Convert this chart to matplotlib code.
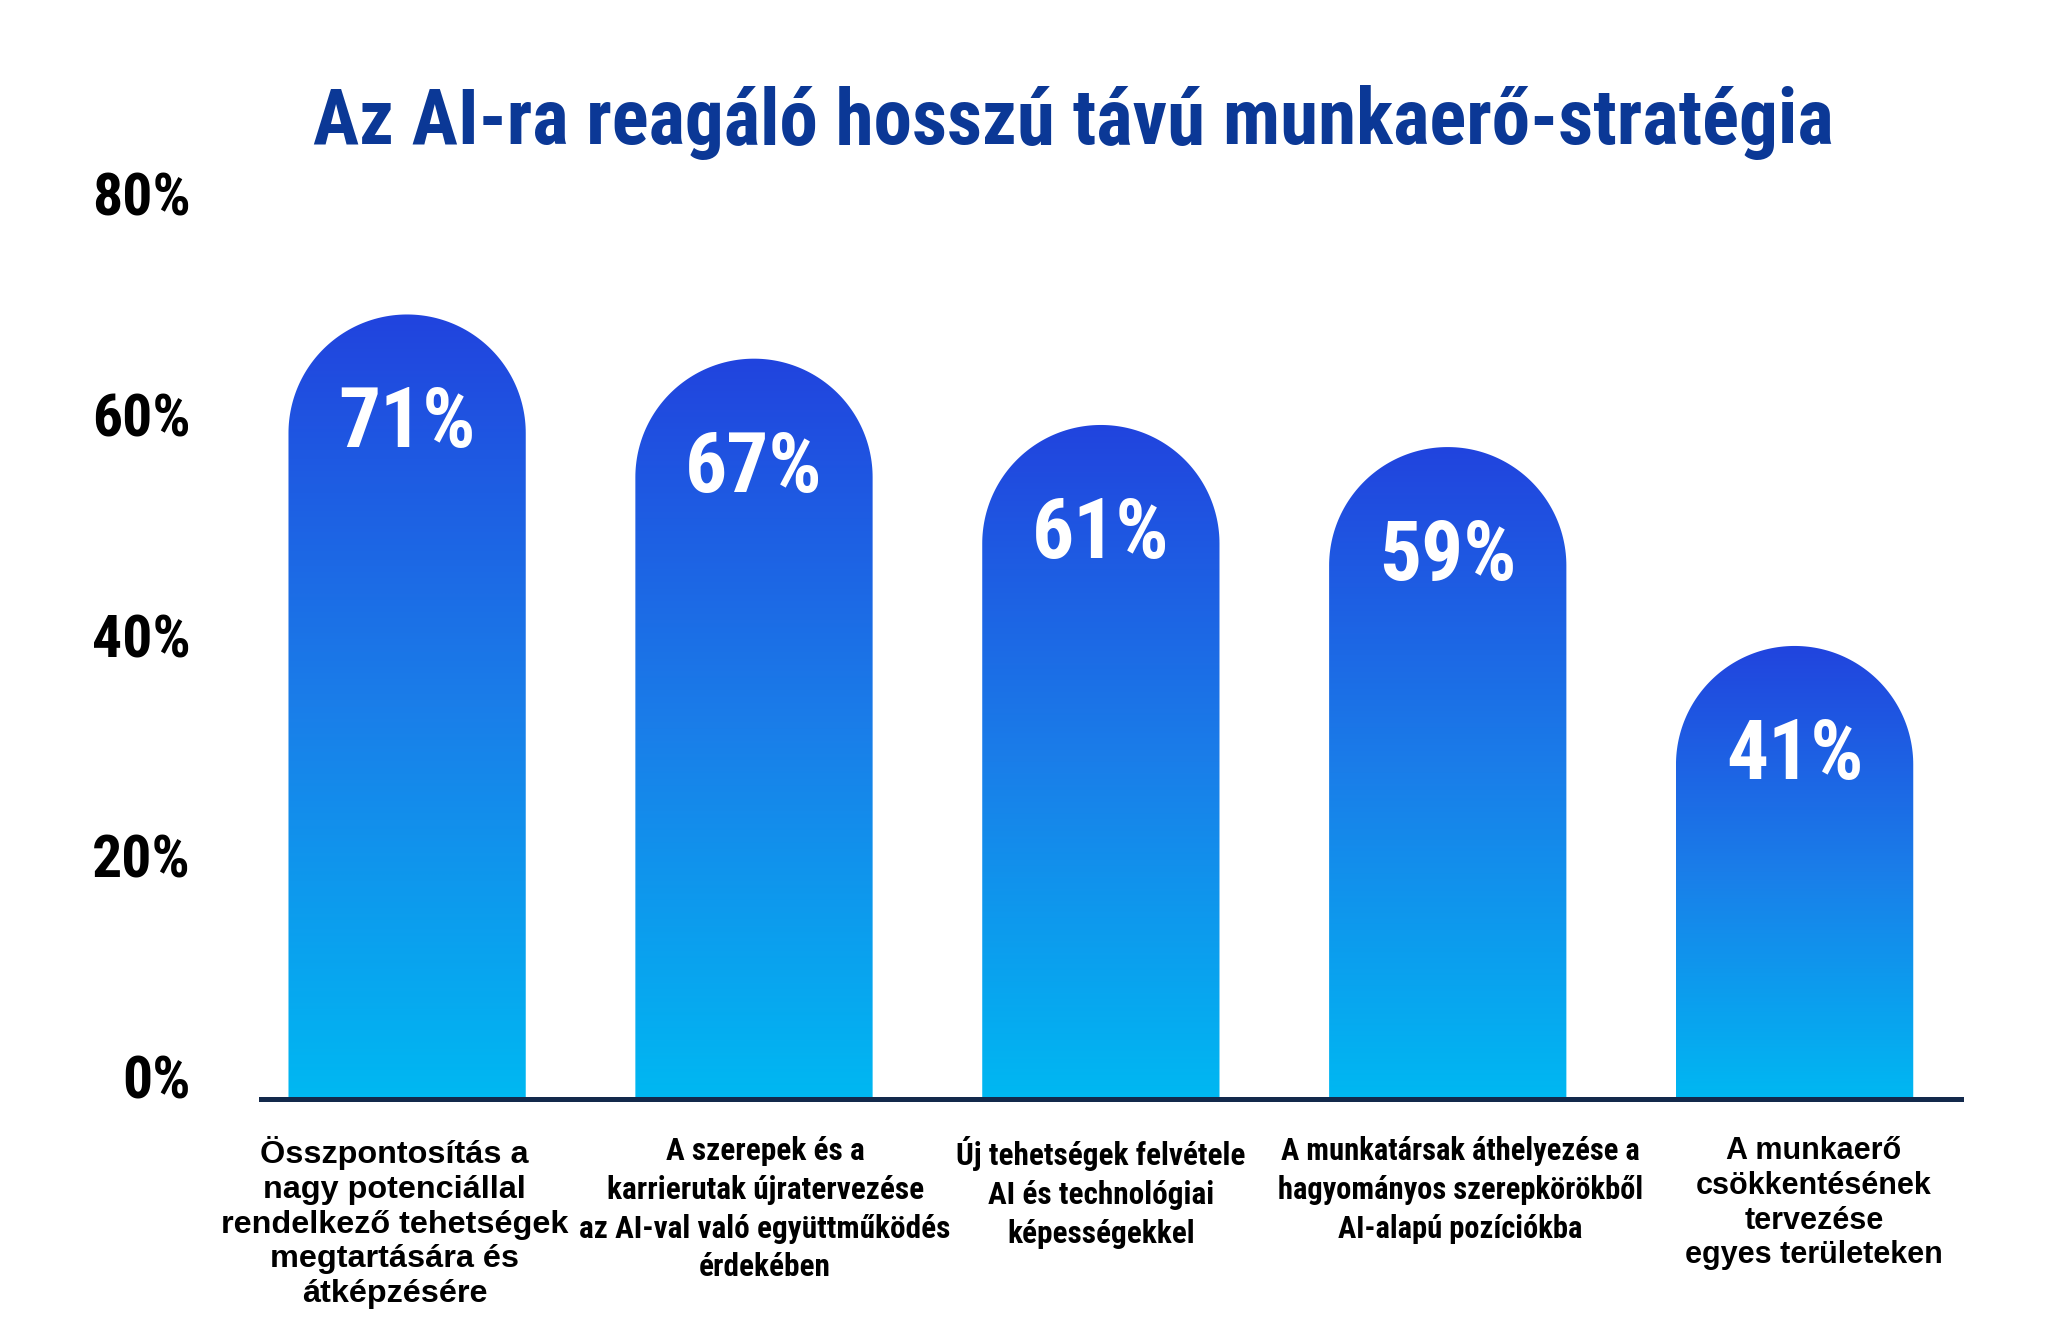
import matplotlib

matplotlib.use("Agg")
import matplotlib.pyplot as plt
import numpy as np
from matplotlib import font_manager
from matplotlib.colors import LinearSegmentedColormap
from matplotlib.patches import PathPatch
from matplotlib.path import Path

TITLE = "Az AI-ra reagáló hosszú távú munkaerő-stratégia"
CATEGORIES = [
    "Összpontosítás a\nnagy potenciállal\nrendelkező tehetségek\nmegtartására és\nátképzésére",
    "A szerepek és a\nkarrierutak újratervezése\naz AI-val való együttműködés\nérdekében",
    "Új tehetségek felvétele\nAI és technológiai\nképességekkel",
    "A munkatársak áthelyezése a\nhagyományos szerepkörökből\nAI-alapú pozíciókba",
    "A munkaerő\ncsökkentésének\ntervezése\negyes területeken",
]
VALUES = [71, 67, 61, 59, 41]
Y_TICKS = [0, 20, 40, 60, 80]
Y_TICK_LABELS = ["0%", "20%", "40%", "60%", "80%"]

_names = {f.name for f in font_manager.fontManager.ttflist}
NARROW = next((n for n in ["Roboto Condensed", "Liberation Sans Narrow", "DejaVu Sans Condensed"] if n in _names),
              "Liberation Sans")
WIDE = "Liberation Sans" if "Liberation Sans" in _names else "DejaVu Sans"

TITLE_COLOR = "#0b3896"
AXIS_COLOR = "#13294b"
bar_cmap = LinearSegmentedColormap.from_list("bar", ["#00b8f2", "#1a7ee9", "#2144de"])

W, H = 2048, 1330
fig = plt.figure(figsize=(W / 100, H / 100), dpi=100)
# axes placed so that 0% sits on y=1099px and bars centre on 407px + 347px steps
ax = fig.add_axes([0.1141, 0.1737, 0.8638, 0.7477])
ax.set_xlim(-0.5, 4.6)
ax.set_ylim(0, 90)

fig.canvas.draw()
px_x = ax.transData.transform((1, 0))[0] - ax.transData.transform((0, 0))[0]
px_y = ax.transData.transform((0, 1))[1] - ax.transData.transform((0, 0))[1]

bar_w = 0.684
grad = np.linspace(0, 1, 256).reshape(-1, 1)
theta = np.linspace(np.pi, 0, 120)
for i, v in enumerate(VALUES):
    x0, x1 = i - bar_w / 2, i + bar_w / 2
    rx = bar_w / 2
    ry = rx * px_x / px_y
    arc_x = i + rx * np.cos(theta)
    arc_y = v - ry + ry * np.sin(theta)
    verts = [(x0, 0)] + list(zip(arc_x, arc_y)) + [(x1, 0), (x0, 0)]
    codes = [Path.MOVETO] + [Path.LINETO] * (len(verts) - 2) + [Path.CLOSEPOLY]
    patch = PathPatch(Path(verts, codes), facecolor="none", edgecolor="none")
    ax.add_patch(patch)
    im = ax.imshow(grad, extent=[x0, x1, 0, v], origin="lower", aspect="auto",
                   cmap=bar_cmap, interpolation="bilinear", zorder=2)
    im.set_clip_path(patch)
    ax.text(i, v - 10.0, f"{v}%", ha="center", va="center", color="white",
            fontsize=60, fontweight="bold", family=NARROW, zorder=3)

# category labels under the baseline (the source centres them a bit off the bars)
label_style = [
    dict(family=WIDE, fontsize=23.3, linespacing=1.2),
    dict(family=NARROW, fontsize=22.5, linespacing=1.36),
    dict(family=NARROW, fontsize=22.5, linespacing=1.36),
    dict(family=NARROW, fontsize=22, linespacing=1.36),
    dict(family=WIDE, fontsize=22, linespacing=1.2),
]
label_nudge = [-9, 8, 0, 9, 14]
for i, (cat, st, dx) in enumerate(zip(CATEGORIES, label_style, label_nudge)):
    ax.annotate(cat, xy=(i, 0), xytext=(dx, -27), textcoords="offset points",
                ha="center", va="top", fontweight="bold", color="black",
                annotation_clip=False, **st)

ax.set_xticks([])
ax.set_yticks(Y_TICKS)
ax.set_yticklabels(Y_TICK_LABELS, family=NARROW, fontsize=43, fontweight="bold")
for lab in ax.get_yticklabels():
    lab.set_va("baseline")
ax.tick_params(axis="y", length=0, pad=31)

for side in ["top", "right", "left"]:
    ax.spines[side].set_visible(False)
ax.spines["bottom"].set_color(AXIS_COLOR)
ax.spines["bottom"].set_linewidth(3.6)
ax.spines["bottom"].set_bounds(-0.42, 4.48)
ax.spines["bottom"].set_zorder(4)
ax.patch.set_visible(False)

fig.text(0.5242, 0.8917, TITLE, ha="center", va="baseline", color=TITLE_COLOR,
         fontsize=55.5, fontweight="bold", family=NARROW)

fig.savefig("out.png", dpi=100, facecolor="white")
